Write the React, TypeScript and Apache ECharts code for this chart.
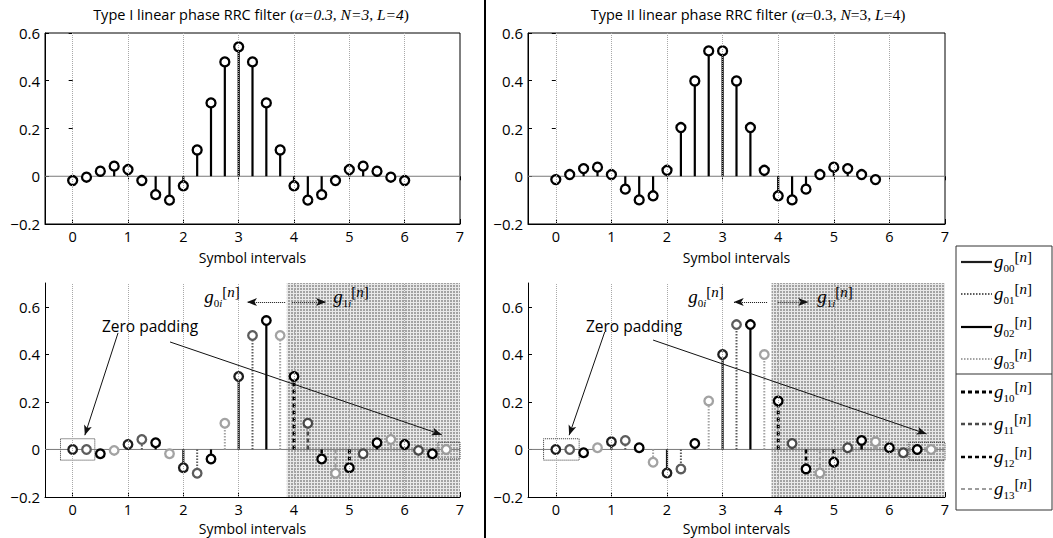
import React, { useEffect, useRef } from 'react';
import * as echarts from 'echarts';

// ---------- data ----------
const X_TICKS = [0, 1, 2, 3, 4, 5, 6, 7];
const Y_TICKS = [-0.2, 0, 0.2, 0.4, 0.6];
const SAMPLE_STEP = 0.25; // symbol interval / L

const typeI = [-0.018, -0.004, 0.021, 0.042, 0.028, -0.018, -0.077, -0.1, -0.04, 0.11, 0.307, 0.479, 0.542,
  0.479, 0.307, 0.11, -0.04, -0.1, -0.077, -0.018, 0.028, 0.042, 0.021, -0.004, -0.018];
const typeII = [-0.014, 0.007, 0.032, 0.038, 0.007, -0.054, -0.099, -0.082, 0.025, 0.204, 0.399, 0.525,
  0.525, 0.399, 0.204, 0.025, -0.082, -0.099, -0.054, 0.007, 0.038, 0.032, 0.007, -0.014];
// zero padded, split into polyphase branches g00..g13
const polyI = [0, 0, -0.018, -0.004, 0.021, 0.042, 0.028, -0.018, -0.077, -0.1, -0.04, 0.11, 0.307, 0.479,
  0.542, 0.479, 0.307, 0.11, -0.04, -0.1, -0.077, -0.018, 0.028, 0.042, 0.021, -0.004, -0.018, 0];
const polyII = [0, 0, -0.014, 0.007, 0.032, 0.038, 0.007, -0.054, -0.099, -0.082, 0.025, 0.204, 0.399, 0.525,
  0.525, 0.399, 0.204, 0.025, -0.082, -0.099, -0.054, 0.007, 0.038, 0.032, 0.007, -0.014, 0, 0];
const BRANCHES = ['00', '01', '02', '03', '10', '11', '12', '13'];
const TITLES = ['Type I', 'Type II'];

// ---------- styles / layout ----------
const FONT = '"Open Sans", sans-serif';
const SERIF = '"Liberation Serif", "DejaVu Serif", serif';
const BRANCH_STYLE = [
  { color: '#1e1e1e', dash: null, width: 2.2 },
  { color: '#5c5c5c', dash: [1.5, 1.5], width: 2 },
  { color: '#000000', dash: null, width: 2.2 },
  { color: '#a3a3a3', dash: [1.5, 1.5], width: 2 },
  { color: '#000000', dash: [4, 3], width: 3 },
  { color: '#4a4a4a', dash: [4, 3], width: 2.5 },
  { color: '#000000', dash: [4, 3], width: 2.5 },
  { color: '#9c9c9c', dash: [4, 3], width: 2 },
];
const GRIDS = [
  { left: 45, top: 33, width: 415, height: 191 },
  { left: 528, top: 33, width: 417, height: 191 },
  { left: 45, top: 283, width: 415, height: 214 },
  { left: 528, top: 283, width: 417, height: 214 },
];

const yFmt = (v: number) => (Math.abs(v) < 1e-9 ? '0' : (v < 0 ? '\u2212' : '') + Math.abs(v).toFixed(1));

function stemSeries(name: string, g: number, data: number[][], st: any, r = 4.3) {
  return {
    type: 'custom',
    name,
    xAxisIndex: g,
    yAxisIndex: g,
    data,
    encode: { x: 0, y: 1 },
    z: 3,
    silent: true,
    renderItem: (params: any, api: any) => {
      const x = api.value(0);
      const y = api.value(1);
      const p0 = api.coord([x, 0]);
      const p1 = api.coord([x, y]);
      return {
        type: 'group',
        children: [
          {
            type: 'line',
            shape: { x1: p0[0], y1: p0[1], x2: p1[0], y2: p1[1] },
            style: { stroke: st.color, lineWidth: st.width, lineDash: st.dash || undefined },
          },
          {
            type: 'circle',
            shape: { cx: p1[0], cy: p1[1], r },
            style: { fill: '#ffffff', stroke: st.color, lineWidth: 2.3 },
          },
        ],
      };
    },
  };
}

function gLabel(sub: string, italicI: boolean) {
  const subParts = italicI ? `{s|${sub[0]}}{si|${sub.slice(1)}}` : `{s|${sub}}`;
  return `{g|g}${subParts}{b|[}{n|n}{b|]}`;
}
const G_RICH = {
  g: { fontFamily: SERIF, fontStyle: 'italic', fontSize: 19, lineHeight: 24, verticalAlign: 'middle', fill: '#000' },
  s: { fontFamily: SERIF, fontSize: 11, lineHeight: 11, verticalAlign: 'bottom', fill: '#000' },
  si: { fontFamily: SERIF, fontStyle: 'italic', fontSize: 11, lineHeight: 11, verticalAlign: 'bottom', fill: '#000' },
  b: { fontFamily: SERIF, fontSize: 15, lineHeight: 17, verticalAlign: 'top', fill: '#000' },
  n: { fontFamily: SERIF, fontStyle: 'italic', fontSize: 15, lineHeight: 17, verticalAlign: 'top', fill: '#000' },
};

export default function App() {
  const ref = useRef<HTMLDivElement>(null);
  useEffect(() => {
    if (!ref.current) return;
    const chart = echarts.init(ref.current, null, { renderer: 'svg' });

    // halftone-like pattern for the g1i region
    const tile = document.createElement('canvas');
    tile.width = 3;
    tile.height = 3;
    const ctx = tile.getContext('2d')!;
    ctx.fillStyle = '#e8e8e8';
    ctx.fillRect(0, 0, 3, 3);
    ctx.fillStyle = '#a2a2a2';
    ctx.fillRect(0, 0, 2, 2);
    const shade: any = { image: tile, repeat: 'repeat' };

    const xAxes: any[] = GRIDS.map((_, g) => ({
      type: 'value', gridIndex: g, min: -0.5, max: 7,
      name: 'Symbol intervals', nameLocation: 'middle', nameGap: g < 2 ? 26 : 24,
      nameTextStyle: { fontFamily: FONT, fontSize: 14, lineHeight: 14, color: '#000' },
      axisLine: { show: true, onZero: false, lineStyle: { color: '#000', width: 1 } },
      axisTick: { show: true, inside: true, length: 5, customValues: X_TICKS, lineStyle: { color: '#000' } },
      axisLabel: { customValues: X_TICKS, fontFamily: FONT, fontSize: 14.5, lineHeight: 14, color: '#000', margin: 5 },
      splitLine: { show: false },
    }));
    const yAxes: any[] = GRIDS.map((_, g) => ({
      type: 'value', gridIndex: g, min: -0.2, max: g < 2 ? 0.6 : 0.7,
      axisLine: { show: true, onZero: false, lineStyle: { color: '#000', width: 1 } },
      axisTick: { show: true, inside: true, length: 4, customValues: Y_TICKS, lineStyle: { color: '#000' } },
      axisLabel: { customValues: Y_TICKS, formatter: yFmt, fontFamily: FONT, fontSize: 15, color: '#000', margin: 5 },
      splitLine: { show: false },
    }));
    [0, 1].forEach((g) => {
      xAxes.push({
        type: 'value', gridIndex: g, min: -0.5, max: 7, position: 'top',
        axisLine: { show: false }, axisLabel: { show: false }, splitLine: { show: false },
        axisTick: { show: true, inside: true, length: 4, customValues: X_TICKS, lineStyle: { color: '#000' } },
      });
      yAxes.push({
        type: 'value', gridIndex: g, min: -0.2, max: 0.6, position: 'right',
        axisLine: { show: false }, axisLabel: { show: false }, splitLine: { show: false },
        axisTick: { show: true, inside: true, length: 4, customValues: Y_TICKS, lineStyle: { color: '#000' } },
      });
    });

    const gridLines = X_TICKS.slice(0, -1).map((v) => ({ xAxis: v }));
    const arrow = (a: number[], b: number[], type: string) => {
      const ls = { type, color: '#111', width: 1 };
      return [
        { coord: a, symbol: 'none', lineStyle: ls },
        { coord: b, symbol: 'arrow', symbolSize: [6, 10], lineStyle: ls },
      ];
    };
    const dottedBox = (a: number[], b: number[]) => [
      { coord: a, itemStyle: { color: 'rgba(0,0,0,0)', borderColor: '#333', borderWidth: 1, borderType: 'dotted' } },
      { coord: b },
    ];
    // annotation geometry in data coordinates, per bottom panel
    const ANNOT = [
      { shadeFrom: 3.87, pad1: [[0.82, 0.49], [0.22, 0.06]], pad2: [[1.76, 0.452], [6.67, 0.062]],
        left: [[3.84, 0.62], [3.15, 0.62]], right: [[3.96, 0.62], [4.58, 0.62]],
        box1: [[-0.22, -0.045], [0.4, 0.045]], box2: [[6.6, -0.04], [7.0, 0.03]] },
      { shadeFrom: 3.88, pad1: [[0.88, 0.494], [0.24, 0.06]], pad2: [[1.75, 0.46], [6.67, 0.065]],
        left: [[3.8, 0.62], [3.2, 0.62]], right: [[3.99, 0.62], [4.54, 0.62]],
        box1: [[-0.22, -0.045], [0.42, 0.045]], box2: [[6.35, -0.045], [7.0, 0.03]] },
    ];

    const series: any[] = [];
    GRIDS.forEach((_, g) => {
      const bottom = g >= 2;
      const an = bottom ? ANNOT[g - 2] : null;
      series.push({
        type: 'line', xAxisIndex: g, yAxisIndex: g, silent: true, z: 2,
        data: [[-0.5, 0], [7, 0]], symbol: 'none', showSymbol: false,
        lineStyle: { color: '#7a7a7a', width: 1 },
        markLine: {
          silent: true, symbol: ['none', 'none'], label: { show: false },
          lineStyle: { type: 'dotted', color: '#a8a8a8', width: 1 },
          data: bottom
            ? [...gridLines, arrow(an!.pad1[0], an!.pad1[1], 'solid'), arrow(an!.pad2[0], an!.pad2[1], 'solid'),
              arrow(an!.left[0], an!.left[1], 'dotted'), arrow(an!.right[0], an!.right[1], 'dotted')]
            : gridLines,
        },
        markArea: bottom
          ? {
            silent: true, label: { show: false },
            data: [
              [{ coord: [an!.shadeFrom, -0.2], itemStyle: { color: shade, borderWidth: 0 } }, { coord: [7, 0.7] }],
              dottedBox(an!.box1[0], an!.box1[1]),
              dottedBox(an!.box2[0], an!.box2[1]),
            ],
          }
          : undefined,
      });
    });

    const blackStem = { color: '#000', dash: null, width: 2.2 };
    series.push(stemSeries('Type I', 0, typeI.map((v, n) => [n * SAMPLE_STEP, v]), blackStem, 4.5));
    series.push(stemSeries('Type II', 1, typeII.map((v, n) => [n * SAMPLE_STEP, v]), blackStem, 4.5));
    [polyI, polyII].forEach((vals, p) => {
      BRANCHES.forEach((br, b) => {
        const k = Math.floor(b / 4);
        const i = b % 4;
        const data = vals
          .map((v, n) => [n * SAMPLE_STEP, v, n])
          .filter((d) => d[2] % 4 === i && Math.floor(d[2] / 16) === k)
          .map((d) => [d[0], d[1]]);
        series.push(stemSeries('g' + br, 2 + p, data, BRANCH_STYLE[b]));
      });
    });

    // ----- graphic: divider, titles, annotations, legend -----
    const Z = 100;
    const graphic: any[] = [
      { type: 'line', z: Z, shape: { x1: 485, y1: 0, x2: 485, y2: 538 }, style: { stroke: '#000', lineWidth: 2 } },
    ];
    const titleRich = {
      s: { fontFamily: FONT, fontSize: 14.5, fill: '#000' },
      p: { fontFamily: SERIF, fontSize: 15.5, fill: '#000' },
      i: { fontFamily: SERIF, fontStyle: 'italic', fontSize: 15.5, fill: '#000' },
    };
    graphic.push({
      type: 'text', z: Z, x: 251, y: 14,
      style: { text: `{s|${TITLES[0]} linear phase RRC filter }{p|(}{i|\u03b1=0.3, N=3, L=4}{p|)}`, rich: titleRich, align: 'center', verticalAlign: 'middle' },
    });
    graphic.push({
      type: 'text', z: Z, x: 748, y: 14,
      style: { text: `{s|${TITLES[1]} linear phase RRC filter }{p|(}{i|\u03b1}{p|=0.3, }{i|N}{p|=3, }{i|L}{p|=4)}`, rich: titleRich, align: 'center', verticalAlign: 'middle' },
    });
    const panelX = [0, 484];
    panelX.forEach((dx) => {
      graphic.push({
        type: 'text', z: Z, x: 150 + dx, y: 326,
        style: { text: 'Zero padding', fontFamily: FONT, fontSize: 15.5, fill: '#000', align: 'center', verticalAlign: 'middle' },
      });
      graphic.push({
        type: 'text', z: Z, x: 222 + dx, y: 296,
        style: { text: gLabel('0i', true), rich: G_RICH, align: 'center', verticalAlign: 'middle' },
      });
      graphic.push({
        type: 'text', z: Z, x: 351 + dx, y: 296,
        style: { text: gLabel('1i', true), rich: G_RICH, align: 'center', verticalAlign: 'middle' },
      });
    });

    // legend
    const LX = 956, LTOP = 246, LBOT = 510, LSEP = 374;
    const LEG_Y = [261, 293, 326, 358, 391, 423, 456, 488];
    graphic.push({ type: 'rect', z: Z, shape: { x: LX, y: LTOP, width: 1052 - LX, height: LBOT - LTOP }, style: { fill: '#fff', stroke: '#333', lineWidth: 1 } });
    graphic.push({ type: 'line', z: Z, shape: { x1: LX, y1: LSEP, x2: 1052, y2: LSEP }, style: { stroke: '#333', lineWidth: 1.2 } });
    BRANCHES.forEach((br, b) => {
      const st = BRANCH_STYLE[b];
      graphic.push({
        type: 'line', z: Z, shape: { x1: LX + 5, y1: LEG_Y[b] + 1, x2: LX + 36, y2: LEG_Y[b] + 1 },
        style: { stroke: st.color, lineWidth: st.width, lineDash: st.dash || undefined },
      });
      graphic.push({
        type: 'text', z: Z, x: LX + 38, y: LEG_Y[b],
        style: { text: gLabel(br, false), rich: G_RICH, align: 'left', verticalAlign: 'middle' },
      });
    });

    chart.setOption({
      animation: false,
      backgroundColor: '#ffffff',
      grid: GRIDS.map((gr, g) => ({
        ...gr, containLabel: false, outerBoundsMode: 'none',
        show: g < 2, borderColor: '#000', borderWidth: 1, backgroundColor: 'rgba(0,0,0,0)',
      })),
      xAxis: xAxes,
      yAxis: yAxes,
      series,
      graphic,
    });
    return () => chart.dispose();
  }, []);
  return <div ref={ref} style={{ position: 'fixed', left: 0, top: 0, width: 1053, height: 538, background: '#fff' }} />;
}
